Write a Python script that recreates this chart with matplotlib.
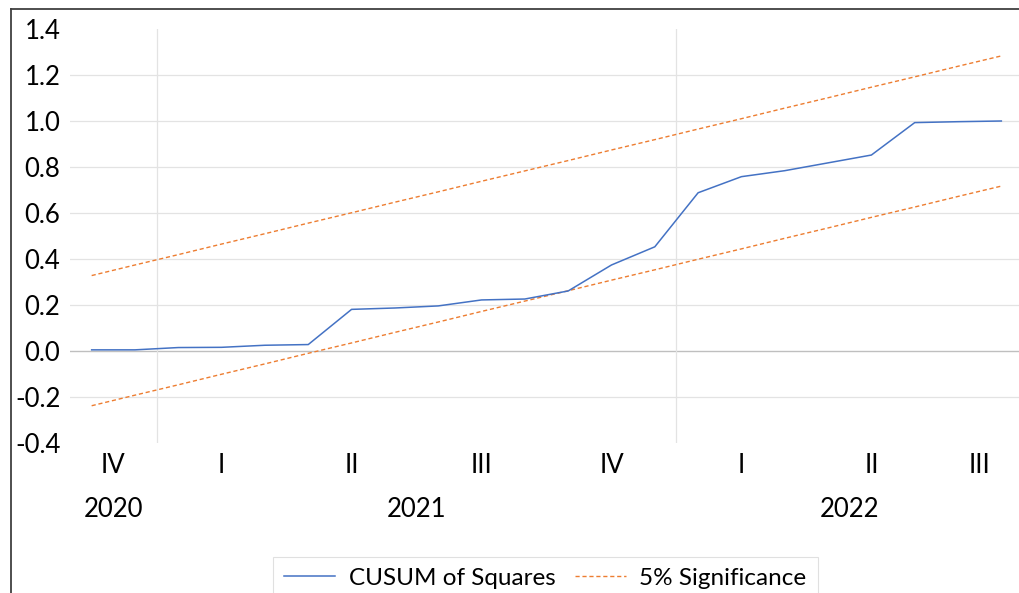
import numpy as np
import matplotlib
matplotlib.use("Agg")
import matplotlib.pyplot as plt
from matplotlib.lines import Line2D

plt.rcParams['font.family'] = ['Lato', 'DejaVu Sans']
plt.rcParams['axes.unicode_minus'] = False

# ---- data (monthly, Nov 2020 .. Aug 2022) ----
cusum_sq = [0.005, 0.005, 0.015, 0.016, 0.025, 0.028, 0.181, 0.187, 0.196, 0.222, 0.226,
            0.261, 0.374, 0.453, 0.688, 0.758, 0.784, 0.818, 0.852, 0.993, 0.997, 1.000]
upper_5 = [0.328, 0.374, 0.419, 0.465, 0.510, 0.556, 0.601, 0.647, 0.692, 0.738, 0.783,
           0.828, 0.874, 0.919, 0.965, 1.010, 1.056, 1.101, 1.147, 1.192, 1.238, 1.283]
lower_5 = [-0.238, -0.192, -0.147, -0.101, -0.056, -0.010, 0.035, 0.081, 0.126, 0.172, 0.217,
           0.262, 0.308, 0.353, 0.399, 0.444, 0.490, 0.535, 0.581, 0.626, 0.672, 0.717]
quarter_labels = ['IV', 'I', 'II', 'III', 'IV', 'I', 'II', 'III']
quarter_months = [2, 3, 3, 3, 3, 3, 3, 2]
year_labels = ['2020', '2021', '2022']
year_months = [2, 12, 8]
y_ticks = [-0.4, -0.2, 0.0, 0.2, 0.4, 0.6, 0.8, 1.0, 1.2, 1.4]

W, H = 1019, 593
fig = plt.figure(figsize=(W / 100, H / 100), dpi=100)
ax = fig.add_axes([70 / W, (H - 443) / H, (1023 - 70) / W, (443 - 29) / H])
x = np.arange(len(cusum_sq))
ax.set_xlim(-0.5, len(cusum_sq) - 0.5)
ax.set_ylim(-0.4, 1.4)
for s in ax.spines.values():
    s.set_visible(False)

# gridlines
for v in y_ticks[1:-1]:
    ax.axhline(v, color='#BFBFBF' if v == 0 else '#E3E3E3', lw=1.0 if v == 0 else 0.9, zorder=0)
# year separators
b = 0
for n in year_months[:-1]:
    b += n
    ax.axvline(b - 0.5, color='#E3E3E3', lw=0.9, zorder=0)

l1, = ax.plot(x, cusum_sq, color='#4472C4', lw=1.1, label='CUSUM of Squares', zorder=3)
l2, = ax.plot(x, upper_5, color='#ED7D31', lw=1.0, ls=(0, (3, 2)), label='5% Significance', zorder=2)
ax.plot(x, lower_5, color='#ED7D31', lw=1.0, ls=(0, (3, 2)), zorder=2)

FS = 18.5
ax.set_xticks([])
ax.set_yticks(y_ticks)
ax.set_yticklabels([f'{v:.1f}' for v in y_ticks], fontsize=FS)
ax.tick_params(axis='y', length=0, pad=7)

# category labels
trans = ax.get_xaxis_transform()
s = 0
for lab, n in zip(quarter_labels, quarter_months):
    ax.text(s + n / 2 - 0.5, -0.055, lab, transform=trans, ha='center', va='center', fontsize=FS)
    s += n
s = 0
for lab, n in zip(year_labels, year_months):
    ax.text(s + n / 2 - 0.5, -0.16, lab, transform=trans, ha='center', va='center', fontsize=FS)
    s += n

leg = fig.legend(handles=[l1, l2], loc='center', bbox_to_anchor=(545.5 / W, 1 - 578 / H),
                 ncol=2, fontsize=17.5, frameon=True, fancybox=False, edgecolor='#D9D9D9',
                 handlelength=2.1, handletextpad=0.55, columnspacing=0.8, borderpad=0.45)
leg.get_frame().set_linewidth(0.8)

# outer frame
fig.add_artist(Line2D([10.5 / W, 10.5 / W], [0, 1 - 8.5 / H], color='#404040', lw=1.3))
fig.add_artist(Line2D([10.5 / W, 1], [1 - 8.5 / H, 1 - 8.5 / H], color='#404040', lw=1.3))

fig.savefig('out.png', dpi=100)
